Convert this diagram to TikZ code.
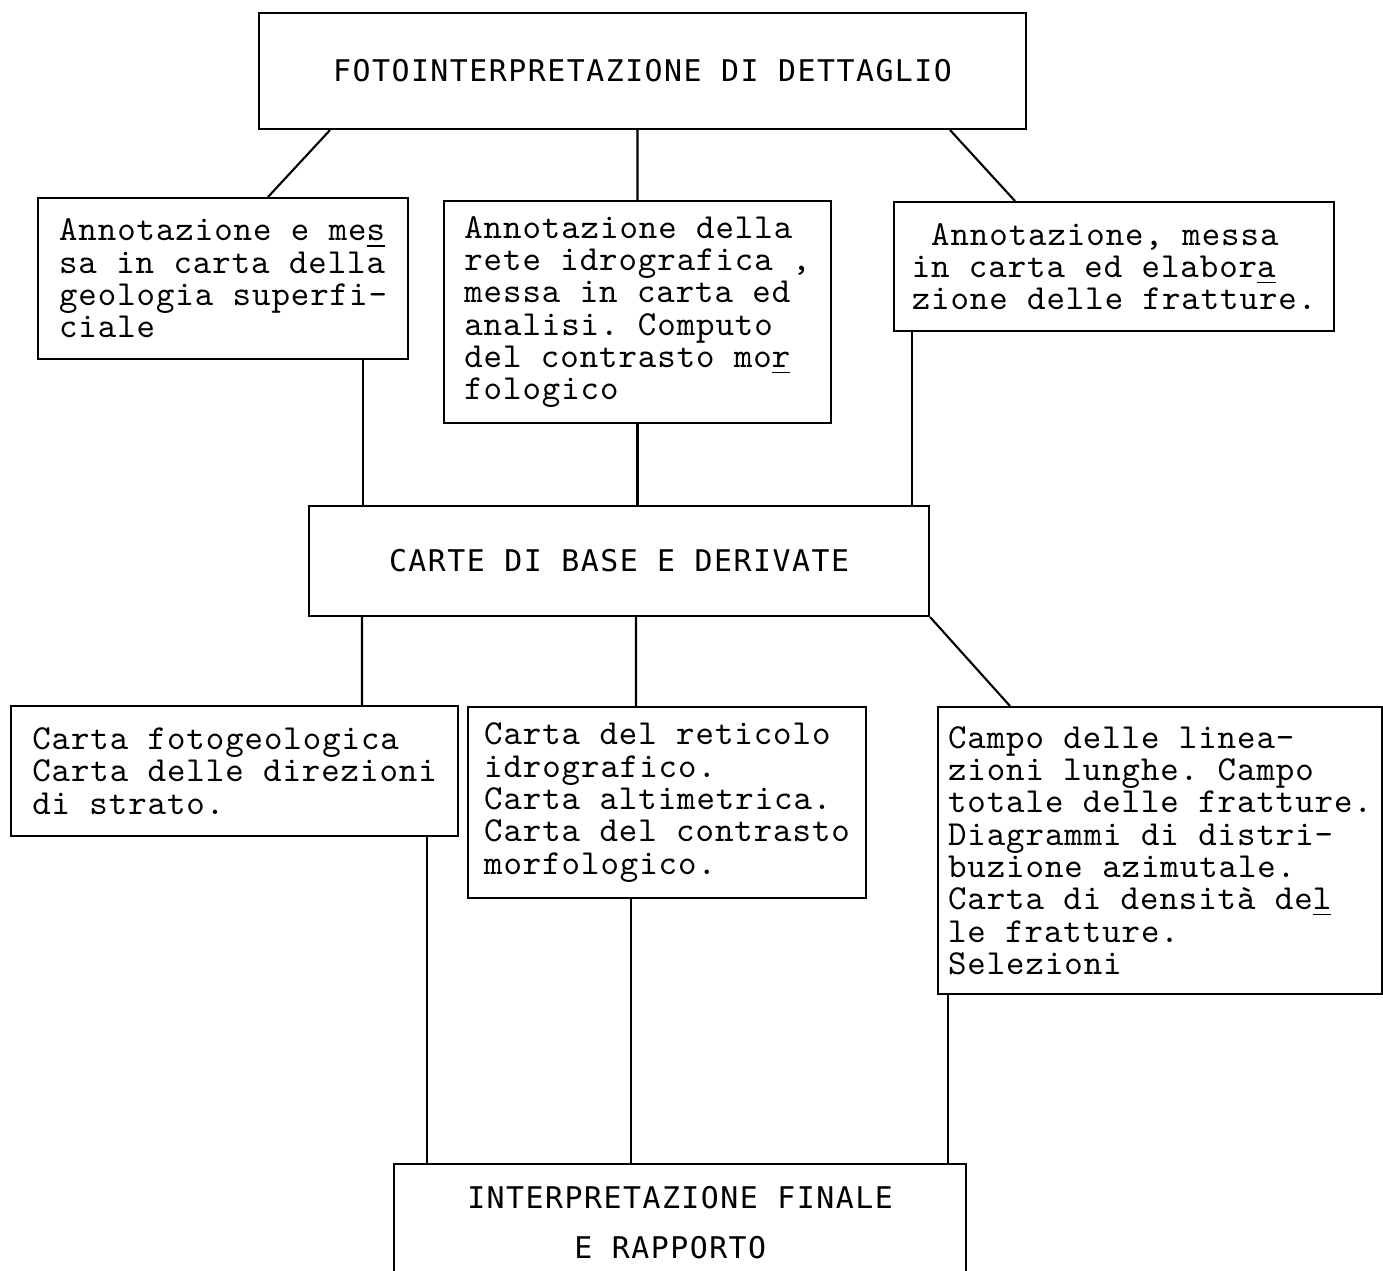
\documentclass[tikz,border=0pt]{standalone}
\usepackage{fontspec}
\setmonofont{Latin Modern Mono}[LetterSpace=2.7]
\newfontfamily\capfont{DejaVu Sans Mono}[LetterSpace=5]
\usepackage{tikz}

\begin{document}
\begin{tikzpicture}[x=0.1mm,y=-0.1mm,line width=0.6pt,
  box/.style={draw,anchor=north west,inner sep=0.5mm,align=left,font=\ttfamily\fontsize{10}{9.2}\selectfont},
  capbox/.style={draw,anchor=north west,inner sep=0.5mm,align=center,font=\capfont\fontsize{8.5}{14.2}\selectfont}]
\useasboundingbox (0,0) rectangle (1383,1271);

\node[capbox,minimum width=76.7mm,minimum height=11.6mm] (fotoint) at (258,12) {FOTOINTERPRETAZIONE DI DETTAGLIO};

\node[box,minimum width=37mm,minimum height=16.1mm] (geol) at (37,197) {Annotazione e me\underline{s}\\sa in carta della\\geologia superfi-\\ciale};
\node[box,minimum width=38.7mm,minimum height=22.2mm] (idro) at (443,200) {Annotazione della\\rete idrografica ,\\messa in carta ed\\analisi. Computo\\del contrasto mo\underline{r}\\fologico};
\node[box,minimum width=44mm,minimum height=12.9mm] (fratt) at (893,201) {\ Annotazione, messa\\in carta ed elabor\underline{a}\\zione delle fratture.};

\node[capbox,minimum width=62mm,minimum height=11mm] (carte) at (308,505) {CARTE DI BASE E DERIVATE};

\node[box,minimum width=44.7mm,minimum height=13mm] (cfoto) at (10,705) {Carta fotogeologica\\Carta delle direzioni\\di strato.};
\node[box,minimum width=39.8mm,minimum height=19.1mm] (creti) at (467,706) {Carta del reticolo\\idrografico.\\Carta altimetrica.\\Carta del contrasto\\morfologico.};
\node[box,minimum width=44.4mm,minimum height=28.7mm] (ccampo) at (937,706) {Campo delle linea-\\zioni lunghe. Campo\\totale delle fratture.\\Diagrammi di distri-\\buzione azimutale.\\Carta di densità de\underline{l}\\le fratture.\\Selezioni};

\node[capbox,minimum width=57.2mm,minimum height=11.8mm] (finale) at (393,1163) {INTERPRETAZIONE FINALE\\E RAPPORTO\ \ };

\coordinate (t1) at ([xshift=7.2mm]fotoint.south west);
\coordinate (t3) at ([xshift=-7.7mm]fotoint.south east);
\coordinate (g1) at ([xshift=23.1mm]geol.north west);
\coordinate (f1) at ([xshift=12.2mm]fratt.north west);
\draw (t1) -- (g1) (idro.north |- fotoint.south) -- (idro.north) (t3) -- (f1);

\coordinate (g2) at ([xshift=32.6mm]geol.south west);
\coordinate (f2) at ([xshift=1.9mm]fratt.south west);
\draw (g2) -- (g2 |- carte.north) (idro.south) -- (idro.south |- carte.north) (f2) -- (f2 |- carte.north);

\coordinate (e1) at ([xshift=35.2mm]cfoto.north west);
\coordinate (r1) at ([xshift=16.9mm]creti.north west);
\coordinate (c1) at ([xshift=7.3mm]ccampo.north west);
\draw (e1 |- carte.south) -- (e1) (r1 |- carte.south) -- (r1) (carte.south east) -- (c1);

\coordinate (e2) at ([xshift=41.7mm]cfoto.south west);
\coordinate (r2) at ([xshift=16.4mm]creti.south west);
\coordinate (c2) at ([xshift=1.1mm]ccampo.south west);
\draw (e2) -- (e2 |- finale.north) (r2) -- (r2 |- finale.north) (c2) -- (c2 |- finale.north);
\end{tikzpicture}
\end{document}
